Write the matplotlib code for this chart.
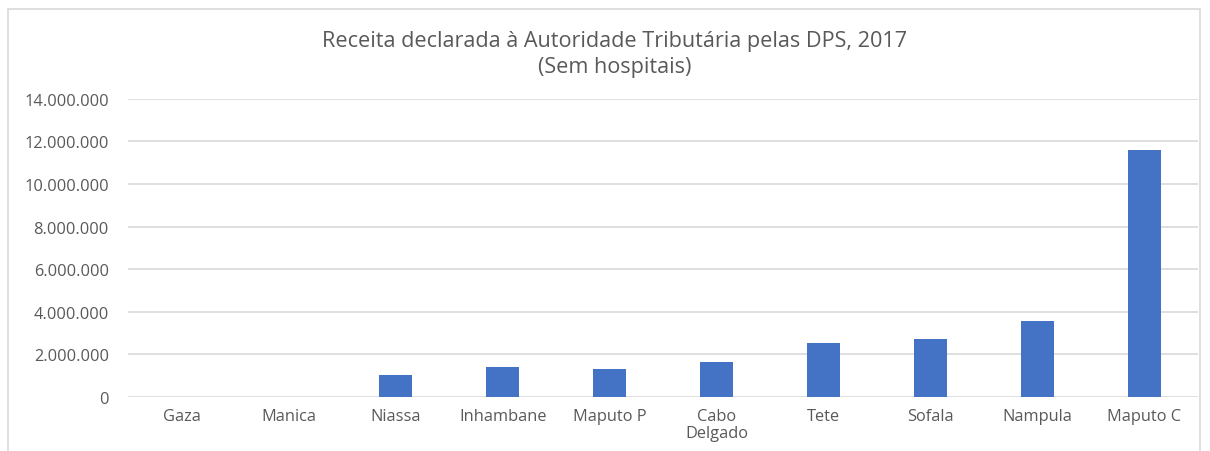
import matplotlib
matplotlib.use("Agg")
import matplotlib.pyplot as plt
from matplotlib.patches import Rectangle
from matplotlib.ticker import FuncFormatter

provincias = ["Gaza", "Manica", "Niassa", "Inhambane", "Maputo P",
              "Cabo\nDelgado", "Tete", "Sofala", "Nampula", "Maputo C"]
receita = [0, 0, 1030000, 1410000, 1320000, 1640000,
           2540000, 2720000, 3570000, 11600000]
yticks = [0, 2000000, 4000000, 6000000, 8000000, 10000000, 12000000, 14000000]

plt.rcParams['font.family'] = ['Open Sans', 'DejaVu Sans']
cinza = '#595959'

fig = plt.figure(figsize=(12.1, 4.52), dpi=100)
ax = fig.add_axes([0.106, 0.1195, 0.884, 0.6595])

# moldura do grafico
fig.patches.append(Rectangle((8 / 1210, -0.05), 1192 / 1210, 1.05 - 10 / 452,
                             transform=fig.transFigure, fill=False,
                             edgecolor='#d9d9d9', linewidth=1.2))

x = range(len(provincias))
ax.bar(x, receita, width=0.31, color='#4472c4', zorder=3)

ax.set_xlim(-0.5, len(provincias) - 0.5)
ax.set_ylim(0, 14000000)
ax.set_yticks(yticks)
ax.yaxis.set_major_formatter(FuncFormatter(lambda v, p: f"{int(v):,}".replace(",", ".")))
ax.set_xticks(list(x))
ax.set_xticklabels(provincias, fontsize=11.8, color=cinza, va='top', linespacing=1.1)
ax.tick_params(axis='y', labelsize=11.8, labelcolor=cinza, length=0, pad=14)
ax.tick_params(axis='x', length=0, pad=8)
ax.grid(axis='y', color='#d9d9d9', linewidth=1.2, zorder=0)
for s in ax.spines.values():
    s.set_visible(False)

fig.text(0.508, 0.88, "Receita declarada à Autoridade Tributária pelas DPS, 2017\n(Sem hospitais)",
         ha='center', va='center', fontsize=15.6, color=cinza, linespacing=1.3)

fig.savefig("out.png", dpi=100)
